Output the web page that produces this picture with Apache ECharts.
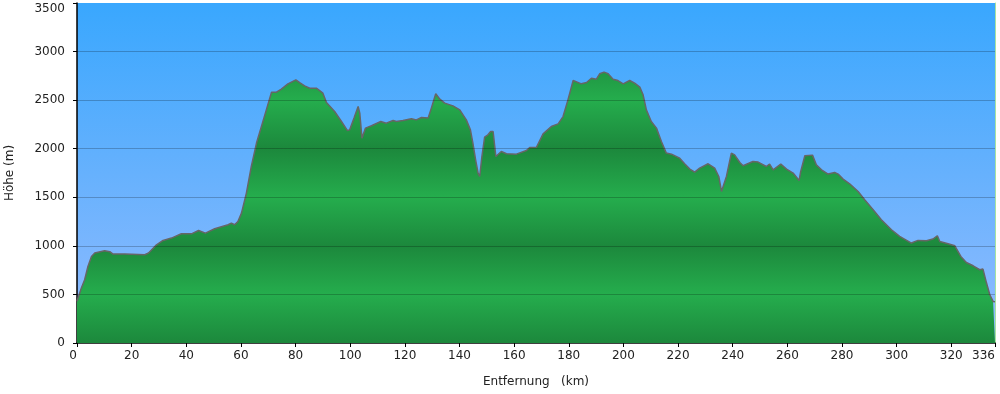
<!DOCTYPE html>
<html>
<head>
<meta charset="utf-8">
<script src="https://cdn.jsdelivr.net/npm/echarts@6/dist/echarts.min.js"></script>
<style>
  html, body { margin: 0; padding: 0; background: #fff; }
  #chart { width: 1000px; height: 394px; }
</style>
</head>
<body>
<div id="chart"></div>
<script>
// distance along the route (km) and height (m)
const distKm = [
  0, 1.6, 2.8, 4.0, 5.3, 6.5, 10.1, 12.0, 13.2, 17.5, 24.8, 26.2, 29.1, 31.5, 34.6,
  38.2, 41.9, 44.5, 47.0, 50.4, 55.3, 56.5, 57.7, 58.9, 60.2, 62.0, 63.8, 65.7, 67.5,
  69.3, 71.2, 73.0, 74.8, 77.2, 80.1, 81.5, 83.3, 85.2, 87.6, 90.0, 91.3, 94.3, 96.8,
  99.0, 99.8, 101.4, 102.9, 103.5, 104.3, 105.6, 107.8, 111.2, 113.2, 115.7, 116.9,
  119.3, 122.4, 124.2, 126.1, 128.5, 129.7, 131.3, 132.8, 134.6, 137.6, 140.1, 142.5,
  144.0, 144.9, 145.9, 146.8, 147.4, 148.2, 149.2, 150.4, 151.4, 152.3, 153.3, 155.3,
  157.2, 160.8, 164.5, 165.7, 168.2, 170.6, 173.6, 176.1, 177.9, 179.7, 181.6, 184.6,
  186.5, 188.3, 190.1, 191.3, 192.9, 194.4, 196.2, 198.0, 199.9, 202.3, 204.1, 206.0,
  207.2, 208.4, 210.2, 212.1, 213.9, 215.7, 217.6, 220.6, 222.4, 224.3, 226.1, 227.9,
  231.0, 233.4, 234.9, 235.9, 237.7, 239.5, 240.7, 242.6, 243.8, 247.4, 249.3, 252.3,
  253.5, 254.8, 257.6, 259.7, 262.1, 264.3, 264.9, 266.4, 269.2, 270.6, 272.5, 274.9,
  277.3, 278.6, 280.4, 282.8, 285.9, 288.3, 291.4, 294.4, 298.1, 301.1, 305.4, 307.8,
  310.9, 313.3, 314.9, 315.8, 318.8, 321.3, 323.5, 325.5, 328.0, 330.4, 331.6, 332.9,
  334.1, 335.3, 336
];
const heightM = [
  430, 566, 651, 788, 891, 926, 950, 940, 915, 915, 908, 926, 1011, 1056, 1080,
  1124, 1124, 1158, 1131, 1176, 1217, 1234, 1217, 1251, 1337, 1543, 1817, 2058, 2228,
  2400, 2582, 2582, 2613, 2668, 2709, 2681, 2647, 2623, 2623, 2572, 2475, 2383, 2280,
  2187, 2194, 2315, 2434, 2366, 2109, 2212, 2236, 2280, 2263, 2290, 2280,
  2290, 2308, 2297, 2321, 2315, 2418, 2565, 2510, 2469, 2441, 2400, 2297,
  2194, 2058, 1886, 1749, 1714, 1920, 2119, 2143, 2177, 2177, 1920, 1971,
  1948, 1944, 1981, 2012, 2016, 2153, 2228, 2256, 2331, 2503, 2702, 2668,
  2681, 2726, 2716, 2771, 2788, 2771, 2716, 2702, 2668, 2702, 2675, 2634,
  2555, 2400, 2280, 2212, 2074, 1955, 1944, 1903, 1845, 1790, 1759, 1800,
  1845, 1800, 1714, 1560, 1714, 1955, 1937, 1858, 1824, 1868, 1862, 1817,
  1842, 1783, 1842, 1790, 1749, 1673, 1766, 1927, 1934, 1834, 1783, 1739,
  1755, 1739, 1687, 1639, 1560, 1474, 1371, 1268, 1166, 1097, 1029, 1056,
  1052, 1070, 1104, 1045, 1022, 1001, 891, 829, 795, 754, 761, 617,
  497, 428, 425
];
const gridHeights = [500, 1000, 1500, 2000, 2500, 3000];

const chart = echarts.init(document.getElementById('chart'));

const plotTop = 3, plotBottom = 343;
const dark = '#1c883c', light = '#25ad4d';
// the green fill goes dark - light - dark every 1000 m
const greenStops = [];
for (let h = 0; h <= 3500; h += 500) {
  greenStops.push({ offset: (3500 - h) / 3500, color: (h % 1000 === 0) ? dark : light });
}
greenStops.sort((a, b) => a.offset - b.offset);

const font = 'DejaVu Sans, Verdana, sans-serif';

chart.setOption({
  animation: false,
  grid: {
    left: 77, right: 5, top: plotTop, bottom: 394 - plotBottom,
    outerBoundsMode: 'none',
    containLabel: false,
    show: true,
    borderWidth: 0,
    backgroundColor: new echarts.graphic.LinearGradient(0, 0, 0, 1, [
      { offset: 0, color: '#39a7fe' },
      { offset: 0.5, color: '#66b1fd' },
      { offset: 1, color: '#93bcff' }
    ])
  },
  xAxis: {
    type: 'value',
    min: 0, max: 336, interval: 20,
    name: 'Entfernung   (km)',
    nameLocation: 'middle',
    nameGap: 33,
    nameTextStyle: { fontFamily: font, fontSize: 12, color: '#222' },
    axisLine: { onZero: false, lineStyle: { color: '#000', width: 1.5 } },
    axisTick: { show: true, length: 4, lineStyle: { color: '#000' } },
    axisLabel: {
      fontFamily: font, fontSize: 12, color: '#222', margin: 7,
      showMaxLabel: true, alignMaxLabel: 'right', alignMinLabel: 'right'
    },
    splitLine: { show: false }
  },
  yAxis: [{
    type: 'value',
    min: 0, max: 3500, interval: 500,
    name: 'Höhe (m)',
    nameLocation: 'middle',
    nameGap: 61,
    nameRotate: 90,
    nameTextStyle: { fontFamily: font, fontSize: 12, color: '#222' },
    axisLine: { show: true, lineStyle: { color: '#000', width: 1.5 } },
    axisTick: { show: true, length: 4, lineStyle: { color: '#000' } },
    axisLabel: {
      fontFamily: font, fontSize: 12, color: '#222', margin: 12,
      verticalAlignMaxLabel: 'top',
      formatter: v => String(v)
    },
    splitLine: { show: false }
  }, {
    type: 'value',
    min: 0, max: 3500,
    position: 'right',
    axisLine: { show: true, lineStyle: { color: '#a6e3a0', width: 1 } },
    axisTick: { show: false },
    axisLabel: { show: false },
    splitLine: { show: false }
  }],
  series: [{
    type: 'line',
    data: distKm.map((d, i) => [d, heightM[i]]),
    showSymbol: false,
    smooth: false,
    lineStyle: { color: '#666', width: 1.5 },
    areaStyle: {
      opacity: 1,
      color: new echarts.graphic.LinearGradient(0, plotTop, 0, plotBottom, greenStops, true)
    },
    markLine: {
      silent: true,
      symbol: 'none',
      label: { show: false },
      lineStyle: { color: 'rgba(0,0,0,0.22)', type: 'solid', width: 1 },
      data: gridHeights.map(h => ({ yAxis: h }))
    }
  }]
});
</script>
</body>
</html>
